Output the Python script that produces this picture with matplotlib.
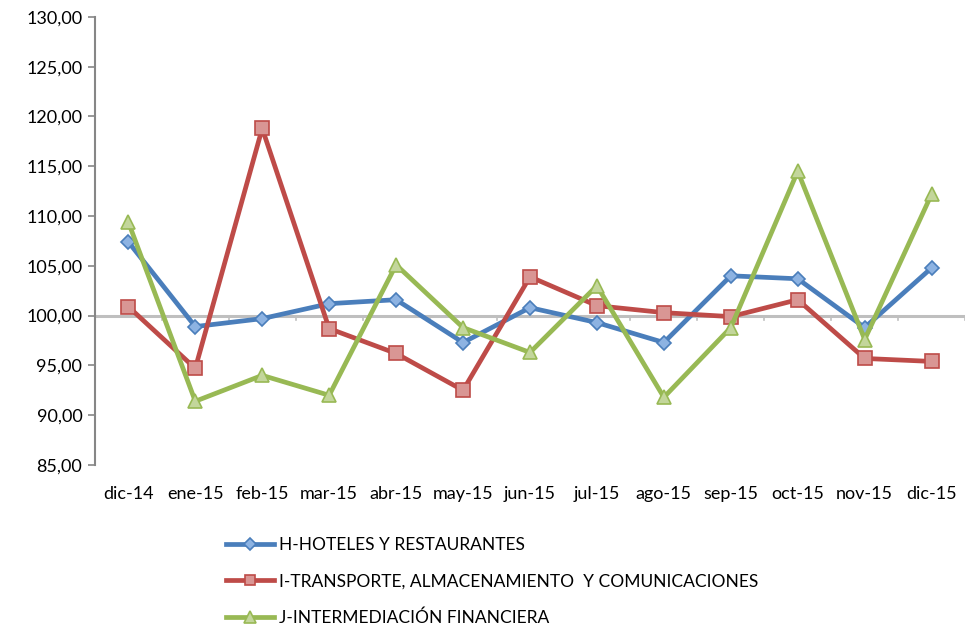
import matplotlib.pyplot as plt

months = ["dic-14", "ene-15", "feb-15", "mar-15", "abr-15", "may-15", "jun-15",
          "jul-15", "ago-15", "sep-15", "oct-15", "nov-15", "dic-15"]
hoteles = [107.4, 98.9, 99.7, 101.2, 101.6, 97.3, 100.8, 99.3, 97.3, 104.0, 103.7, 98.8, 104.8]
transporte = [100.9, 94.7, 118.8, 98.7, 96.2, 92.5, 103.9, 101.0, 100.3, 99.9, 101.6, 95.7, 95.4]
financiera = [109.4, 91.4, 94.0, 92.0, 105.1, 98.8, 96.3, 103.0, 91.8, 98.8, 114.5, 97.6, 112.2]
labels = ["H-HOTELES Y RESTAURANTES",
          "I-TRANSPORTE, ALMACENAMIENTO  Y COMUNICACIONES",
          "J-INTERMEDIACIÓN FINANCIERA"]
yticks = [85, 90, 95, 100, 105, 110, 115, 120, 125, 130]

plt.rcParams['font.family'] = ['Lato', 'DejaVu Sans']

fig = plt.figure(figsize=(9.68, 6.25), dpi=100)
ax = fig.add_axes([0.098, 0.256, 0.899, 0.717])

x = list(range(len(months)))

# reference line at 100 (Excel category axis crossing)
ax.axhline(100, color='#BFBFBF', lw=2.2, zorder=1)
for k in range(len(months) + 1):
    ax.plot([k - 0.5, k - 0.5], [100, 99.55], color='#BFBFBF', lw=1.2, zorder=1)

ax.plot(x, hoteles, color='#4A7EBB', lw=3.4, marker='D', ms=7.5,
        mfc='#8DB3E2', mec='#4A7EBB', mew=1.2, label=labels[0], zorder=3)
ax.plot(x, transporte, color='#BE4B48', lw=3.4, marker='s', ms=9.5,
        mfc='#D99694', mec='#BE4B48', mew=1.2, label=labels[1], zorder=3)
ax.plot(x, financiera, color='#98B954', lw=3.4, marker='^', ms=10.5,
        mfc='#C3D69B', mec='#98B954', mew=1.2, label=labels[2], zorder=4)

ax.set_xlim(-0.5, len(months) - 0.5)
ax.set_ylim(85, 130)
ax.set_yticks(yticks)
ax.set_yticklabels([f"{v:.2f}".replace('.', ',') for v in yticks], fontsize=13)
ax.set_xticks(x)
ax.set_xticklabels(months, fontsize=13)
ax.tick_params(axis='x', length=0, pad=15)
ax.tick_params(axis='y', length=5, width=1.2, color='#868686', pad=4)

for side in ['top', 'right', 'bottom']:
    ax.spines[side].set_visible(False)
ax.spines['left'].set_color('#868686')
ax.spines['left'].set_linewidth(1.5)

fig.legend(loc='upper left', bbox_to_anchor=(0.233, 0.140), frameon=False,
           fontsize=12.5, handlelength=2.8, handletextpad=0.3, labelspacing=1.15,
           borderaxespad=0, borderpad=0, markerscale=0.8)

plt.savefig("out.png", dpi=100)
